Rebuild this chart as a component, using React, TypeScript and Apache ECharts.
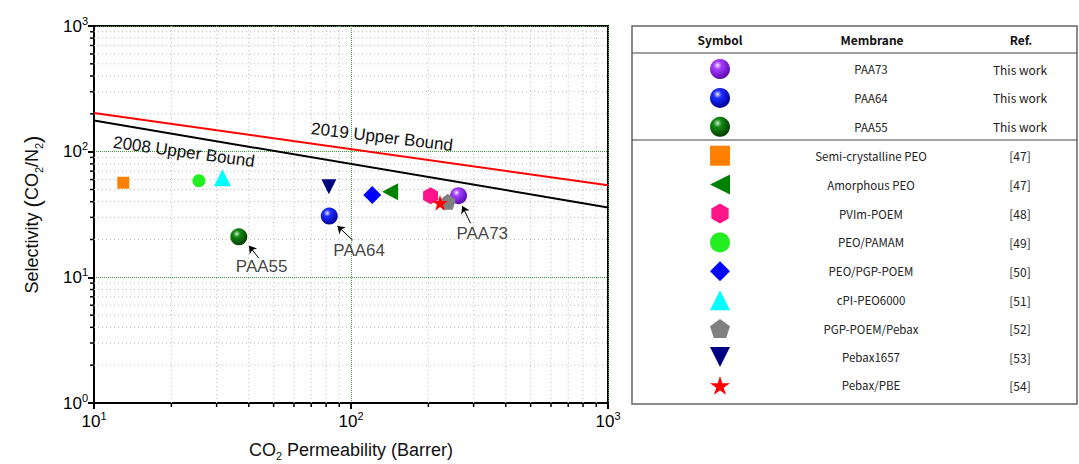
import React, { useEffect, useRef } from "react";
import * as echarts from "echarts";

// ---------- data ----------
const membranes = [
  "PAA73", "PAA64", "PAA55", "Semi-crystalline PEO", "Amorphous PEO", "PVIm-POEM",
  "PEO/PAMAM", "PEO/PGP-POEM", "cPI-PEO6000", "PGP-POEM/Pebax", "Pebax1657", "Pebax/PBE",
];
const refs = [
  "This work", "This work", "This work", "[47]", "[47]", "[48]",
  "[49]", "[50]", "[51]", "[52]", "[53]", "[54]",
];
const permeability = [262, 82.3, 36.6, 13.0, 142, 204, 25.6, 121, 31.6, 238, 82, 222];
const selectivity = [44.6, 30.7, 21.0, 56.6, 48, 44.6, 58.7, 45.2, 62, 40, 52.6, 39.2];

const bound2008 = [[10, 177], [1000, 36]];
const bound2019 = [[10, 203], [1000, 54]];

const minorX = [20, 30, 40, 50, 60, 70, 80, 90, 200, 300, 400, 500, 600, 700, 800, 900];
const minorY = [2, 3, 4, 5, 6, 7, 8, 9, 20, 30, 40, 50, 60, 70, 80, 90, 200, 300, 400, 500, 600, 700, 800, 900];

// annotation labels [x, y] and arrows [x1, y1, x2, y2]
const annotLabels = [
  { name: "PAA55", value: [44.9, 12.1] },
  { name: "PAA64", value: [107.6, 16.5] },
  { name: "PAA73", value: [324, 22.5] },
];
const arrows = [
  [43.8, 14.2, 40.1, 17.8],
  [101.5, 19.8, 88.5, 25.6],
  [292, 26.9, 271, 36.9],
];

// ---------- styles ----------
const sphere = (c0: string, c1: string, c2: string) => ({
  type: "radial", x: 0.38, y: 0.32, r: 0.68,
  colorStops: [{ offset: 0, color: c0 }, { offset: 0.3, color: c1 }, { offset: 1, color: c2 }],
});
const symbols = [
  "circle", "circle", "circle", "rect",
  "path://M0,50 L100,0 L100,100 Z",
  "path://M50,0 L93.3,25 L93.3,75 L50,100 L6.7,75 L6.7,25 Z",
  "circle", "diamond", "triangle",
  "path://M50,0 L97.6,34.5 L79.4,90.5 L20.6,90.5 L2.4,34.5 Z",
  "path://M0,0 L100,0 L50,100 Z",
  "path://M50,0 L61,35 L98,35 L68,57 L79,91 L50,70 L21,91 L32,57 L2,35 L39,35 Z",
];
const colors: any[] = [
  sphere("#f4e6ff", "#a23cff", "#5e0ab0"),
  sphere("#e6e8ff", "#1f2cff", "#00009a"),
  sphere("#cfe8cf", "#138a13", "#003d00"),
  "#ff8000", "#008000", "#ff1489", "#22ee22", "#0000ff", "#00ffff", "#808080", "#000080", "#ff0000",
];
const sizes = [17, 17, 17, 12, [16, 17], [15, 17], 13, 18, 17, 16, 15, 16];

const FONT = "'Liberation Sans', Arial, sans-serif";
const TFONT = "'Noto Sans CJK KR', 'Noto Sans', sans-serif";

const supFmt = (v: number) => `{b|10}{s|${Math.round(Math.log10(v))}}`;
const supRich = {
  b: { fontSize: 17, lineHeight: 22, fontFamily: FONT, color: "#000" },
  s: { fontSize: 11, lineHeight: 10, verticalAlign: "top", fontFamily: FONT, color: "#000" },
};
const nameRich = {
  sub: { fontSize: 11, lineHeight: 12, verticalAlign: "bottom", color: "#111", fontFamily: FONT },
  p: { fontSize: 22, lineHeight: 24, color: "#111", fontFamily: FONT },
};

export default function App() {
  const ref = useRef<HTMLDivElement>(null);
  useEffect(() => {
    const chart = echarts.init(ref.current!, null, { renderer: "svg" });

    const scatterSeries = membranes.map((m, i) => ({
      name: m,
      type: "scatter",
      data: [[permeability[i], selectivity[i]]],
      symbol: symbols[i],
      symbolSize: sizes[i],
      itemStyle: { color: colors[i], opacity: 1 },
      z: 5,
      silent: true,
    }));

    const option: any = {
      animation: false,
      textStyle: { fontFamily: FONT },
      grid: {
        left: 94, right: 471, top: 26, bottom: 61,
        containLabel: false,
        outerBoundsMode: "none",
        show: true, borderColor: "#000", borderWidth: 2, backgroundColor: "transparent",
      },
      xAxis: {
        type: "log", logBase: 10, min: 10, max: 1000,
        axisLine: { show: true, lineStyle: { color: "#000", width: 2 } },
        axisTick: { show: true, length: 6, lineStyle: { color: "#000", width: 2 } },
        axisLabel: { formatter: supFmt, rich: supRich, margin: 7 },
        splitLine: { show: true, lineStyle: { color: "#3aa33a", type: "dotted", width: 1 } },
        name: "CO{sub|2} Permeability (Barrer)",
        nameLocation: "middle",
        nameGap: 36,
        nameTextStyle: { fontSize: 18, color: "#111", fontFamily: FONT, lineHeight: 22, rich: nameRich },
      },
      yAxis: {
        type: "log", logBase: 10, min: 1, max: 1000,
        axisLine: { show: true, lineStyle: { color: "#000", width: 2 } },
        axisTick: { show: true, length: 6, lineStyle: { color: "#000", width: 2 } },
        axisLabel: { formatter: supFmt, rich: supRich, margin: 6 },
        splitLine: { show: true, lineStyle: { color: "#3aa33a", type: "dotted", width: 1 } },
        name: "Selectivity {p|(}CO{sub|2}/N{sub|2}{p|)}",
        nameLocation: "middle",
        nameGap: 50,
        nameTextStyle: { fontSize: 18, color: "#111", fontFamily: FONT, lineHeight: 24, rich: nameRich },
      },
      legend: {
        data: membranes,
        orient: "vertical",
        left: 710, top: 59,
        padding: 0,
        itemWidth: 20, itemHeight: 20, itemGap: 8.9,
        selectedMode: false,
        formatter: (name: string) => {
          const i = membranes.indexOf(name);
          return `{a| }{n|${name}}{r|${refs[i]}}`;
        },
        textStyle: {
          fontFamily: TFONT, fontSize: 12, color: "#222",
          rich: {
            a: { width: 26, lineHeight: 20 },
            n: { width: 220, align: "center", lineHeight: 20, fontFamily: TFONT, fontSize: 11.5, color: "#222" },
            r: { width: 78, align: "center", lineHeight: 20, fontFamily: TFONT, fontSize: 12, color: "#222" },
          },
        },
      },
      graphic: [
        { type: "rect", shape: { x: 632, y: 26, width: 445, height: 378 }, style: { fill: "none", stroke: "#666", lineWidth: 1.5 }, z: 10 },
        { type: "line", shape: { x1: 632, y1: 53, x2: 1077, y2: 53 }, style: { stroke: "#444", lineWidth: 1 }, z: 10 },
        { type: "line", shape: { x1: 632, y1: 140, x2: 1077, y2: 140 }, style: { stroke: "#444", lineWidth: 1 }, z: 10 },
        { type: "text", x: 720, y: 39, style: { text: "Symbol", font: `bold 12px ${TFONT}`, fill: "#111", align: "center", verticalAlign: "middle" }, z: 10 },
        { type: "text", x: 872, y: 39, style: { text: "Membrane", font: `bold 12px ${TFONT}`, fill: "#111", align: "center", verticalAlign: "middle" }, z: 10 },
        { type: "text", x: 1021, y: 39, style: { text: "Ref.", font: `bold 12px ${TFONT}`, fill: "#111", align: "center", verticalAlign: "middle" }, z: 10 },
        { type: "text", x: 184, y: 152, rotation: -0.135, style: { text: "2008 Upper Bound", font: `17px ${FONT}`, fill: "#111", align: "center", verticalAlign: "middle" }, z: 10 },
        { type: "text", x: 382, y: 137, rotation: -0.12, style: { text: "2019 Upper Bound", font: `17px ${FONT}`, fill: "#111", align: "center", verticalAlign: "middle" }, z: 10 },
      ],
      series: [
        {
          type: "custom", name: "minorX", silent: true, clip: false, z: 1,
          data: minorX.map((v) => [v, 1]),
          encode: { x: 0, y: 1 },
          renderItem: (params: any, api: any) => {
            const v = api.value(0);
            const bot = api.coord([v, 1]);
            const top = api.coord([v, 1000]);
            return {
              type: "group",
              children: [
                { type: "line", shape: { x1: bot[0], y1: bot[1], x2: top[0], y2: top[1] }, style: { stroke: "#bdbdbd", lineWidth: 1, lineDash: [1, 3] } },
                { type: "line", shape: { x1: bot[0], y1: bot[1], x2: bot[0], y2: bot[1] + 4 }, style: { stroke: "#000", lineWidth: 1.5 } },
              ],
            };
          },
        },
        {
          type: "custom", name: "minorY", silent: true, clip: false, z: 1,
          data: minorY.map((v) => [10, v]),
          encode: { x: 0, y: 1 },
          renderItem: (params: any, api: any) => {
            const v = api.value(1);
            const l = api.coord([10, v]);
            const r = api.coord([1000, v]);
            return {
              type: "group",
              children: [
                { type: "line", shape: { x1: l[0], y1: l[1], x2: r[0], y2: r[1] }, style: { stroke: "#bdbdbd", lineWidth: 1, lineDash: [1, 3] } },
                { type: "line", shape: { x1: l[0] - 4, y1: l[1], x2: l[0], y2: l[1] }, style: { stroke: "#000", lineWidth: 1.5 } },
              ],
            };
          },
        },
        {
          type: "line", name: "2008 Upper Bound", data: bound2008, showSymbol: false, symbol: "none",
          lineStyle: { color: "#000", width: 2 }, z: 3, silent: true,
        },
        {
          type: "line", name: "2019 Upper Bound", data: bound2019, showSymbol: false, symbol: "none",
          lineStyle: { color: "#ff0000", width: 2 }, z: 3, silent: true,
        },
        ...scatterSeries,
        {
          type: "scatter", name: "annotations", data: annotLabels, symbolSize: 0, silent: true, z: 6,
          label: { show: true, position: "inside", formatter: "{b}", fontSize: 17, color: "#111", fontFamily: FONT },
          markLine: {
            silent: true,
            symbol: ["none", "arrow"],
            symbolSize: 7,
            lineStyle: { color: "#000", width: 1, type: "solid" },
            label: { show: false },
            data: arrows.map((a) => [{ coord: [a[0], a[1]] }, { coord: [a[2], a[3]] }]),
          },
        },
      ],
    };
    chart.setOption(option);
    return () => chart.dispose();
  }, []);
  return <div ref={ref} style={{ position: "absolute", left: 0, top: 0, width: 1079, height: 464 }} />;
}
